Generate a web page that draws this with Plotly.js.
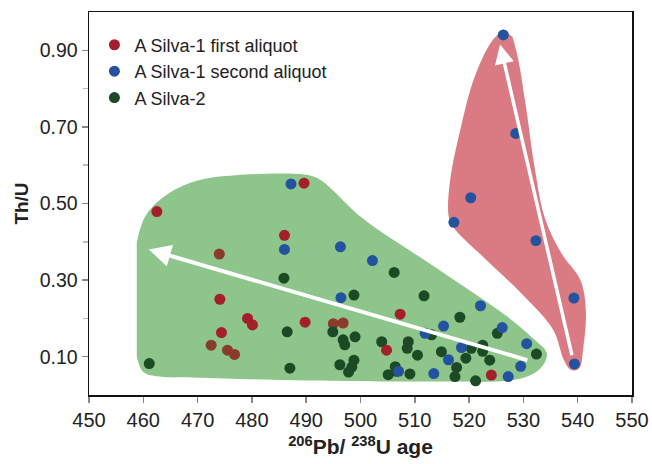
<!DOCTYPE html>
<html>
<head>
<meta charset="utf-8">
<script src="https://cdn.plot.ly/plotly-3.0.1.min.js"></script>
<style>html,body{margin:0;padding:0;background:#fff;}#chart{width:652px;height:464px;}</style>
</head>
<body>
<div id="chart"></div>
<script>
// ---- data ----
const seriesNames = ["A Silva-1 first aliquot", "A Silva-1 second aliquot", "A Silva-2"];

const firstAgeBright = [462.5, 489.6, 486.0, 474.1, 479.2, 480.1, 489.8, 474.4, 507.3, 504.8, 524.1];
const firstThUBright = [0.479, 0.553, 0.417, 0.250, 0.200, 0.183, 0.190, 0.163, 0.211, 0.117, 0.052];
const firstAgeFaded = [474.0, 472.5, 475.5, 476.8, 495.0, 496.8];
const firstThUFaded = [0.368, 0.130, 0.117, 0.106, 0.186, 0.188];

const secondAge = [487.2, 486.0, 496.3, 502.2, 496.4, 522.1, 515.3, 526.1, 511.9, 530.6, 518.6, 516.2, 507.0, 513.5, 529.5, 527.2,
                   526.3, 528.6, 520.3, 517.2, 532.3, 539.3, 539.4];
const secondThU = [0.551, 0.380, 0.387, 0.351, 0.254, 0.233, 0.180, 0.176, 0.161, 0.134, 0.124, 0.092, 0.062, 0.056, 0.075, 0.048,
                   0.940, 0.683, 0.515, 0.451, 0.403, 0.253, 0.081];

const silva2Age = [485.9, 486.5, 461.1, 487.0, 506.2, 498.8, 511.7, 518.3, 525.2, 513.1, 494.9, 496.8, 497.1, 499.0, 503.9,
                   508.8, 508.6, 510.5, 514.9, 520.4, 522.5, 522.5, 519.4, 517.7, 517.4, 523.8, 532.4, 521.2, 496.2, 498.8,
                   498.4, 497.8, 506.4, 506.6, 505.1, 509.1];
const silva2ThU = [0.305, 0.165, 0.082, 0.070, 0.320, 0.261, 0.259, 0.203, 0.161, 0.157, 0.165, 0.144, 0.131, 0.152, 0.139,
                   0.139, 0.122, 0.104, 0.113, 0.122, 0.130, 0.114, 0.096, 0.072, 0.048, 0.091, 0.107, 0.037, 0.079, 0.091,
                   0.073, 0.060, 0.074, 0.062, 0.053, 0.055];

// field outlines
const greenFieldAge = [458.8, 460.5, 464.5, 470, 477, 490.5, 492.8, 500.5, 514.6, 526.9, 532, 534.3, 533.5, 531, 527, 515, 490, 470, 463, 460, 458.8];
const greenFieldThU = [0.40, 0.47, 0.525, 0.56, 0.574, 0.574, 0.56, 0.46, 0.326, 0.206, 0.145, 0.11, 0.075, 0.05, 0.037, 0.035, 0.038, 0.045, 0.048, 0.06, 0.10];
const pinkFieldAge = [526.3, 524, 521, 518.5, 516.5, 516.2, 517, 523, 530, 535.5, 537.5, 538.8, 540.3, 541, 541.5, 540.5, 537, 534, 532, 530.5, 529, 528];
const pinkFieldThU = [0.955, 0.92, 0.83, 0.70, 0.56, 0.47, 0.44, 0.355, 0.26, 0.17, 0.09, 0.065, 0.07, 0.12, 0.22, 0.30, 0.37, 0.46, 0.60, 0.75, 0.88, 0.935];

// trend arrows [age, Th/U]
const greenArrowFrom = [531, 0.09], greenArrowTo = [461, 0.38];
const pinkArrowFrom = [539, 0.10], pinkArrowTo = [525.7, 0.915];

const xTicks = [450, 460, 470, 480, 490, 500, 510, 520, 530, 540, 550];
const yTicks = [0.1, 0.3, 0.5, 0.7, 0.9];
const yTickText = ["0.10", "0.30", "0.50", "0.70", "0.90"];
const yMinorTicks = [0.2, 0.4, 0.6, 0.8];

// ---- styling ----
const RED = "#a51e2b", BLUE = "#23539e", DKGREEN = "#1c4a25", FADED = "#8b3b2c";
const FONT = "Liberation Sans, Arial, Helvetica, sans-serif";
const msize = 11;

const traces = [
  {x: greenFieldAge, y: greenFieldThU, mode: "lines", fill: "toself", fillcolor: "#8dc58a",
   line: {width: 0, shape: "spline", smoothing: 1, color: "#8dc58a"}, showlegend: false, hoverinfo: "skip"},
  {x: pinkFieldAge, y: pinkFieldThU, mode: "lines", fill: "toself", fillcolor: "#da7b83",
   line: {width: 0, shape: "spline", smoothing: 1, color: "#da7b83"}, showlegend: false, hoverinfo: "skip"},
  {x: firstAgeFaded, y: firstThUFaded, mode: "markers", marker: {color: FADED, size: msize}, showlegend: false},
  {x: silva2Age, y: silva2ThU, mode: "markers", name: seriesNames[2], legendgroup: "c", legendrank: 3,
   marker: {color: DKGREEN, size: msize}},
  {x: secondAge, y: secondThU, mode: "markers", name: seriesNames[1], legendgroup: "b", legendrank: 2,
   marker: {color: BLUE, size: msize}},
  {x: firstAgeBright, y: firstThUBright, mode: "markers", name: seriesNames[0], legendgroup: "a", legendrank: 1,
   marker: {color: RED, size: msize}}
];

function arrow(from, to, w) {
  return {x: to[0], y: to[1], ax: from[0], ay: from[1], xref: "x", yref: "y", axref: "x", ayref: "y",
          text: "", showarrow: true, arrowhead: 2, arrowsize: 1.1, arrowwidth: w, arrowcolor: "#ffffff"};
}

const layout = {
  width: 652, height: 464,
  margin: {l: 89, r: 20, t: 12, b: 69},
  paper_bgcolor: "#ffffff", plot_bgcolor: "#ffffff",
  font: {family: FONT, size: 19, color: "#222"},
  showlegend: true,
  legend: {x: 0.01, y: 0.962, xanchor: "left", yanchor: "top", bgcolor: "rgba(0,0,0,0)",
           font: {family: FONT, size: 18, color: "#222"}, tracegroupgap: 2, traceorder: "normal"},
  xaxis: {range: [450, 550], tickmode: "array", tickvals: xTicks, ticks: "outside", ticklen: 6, tickwidth: 1.5,
          tickcolor: "#888", showline: true, linecolor: "#111", linewidth: 1.5, mirror: true,
          showgrid: false, zeroline: false, tickfont: {size: 20, color: "#222"},
          title: {text: "<sup>206</sup>Pb/ <sup>238</sup>U age", font: {size: 21, weight: "bold", color: "#222"}, standoff: 10}},
  yaxis: {range: [0, 1], tickmode: "array", tickvals: yTicks, ticktext: yTickText, ticks: "outside", ticklen: 6, tickwidth: 1.5,
          tickcolor: "#888", showline: true, linecolor: "#111", linewidth: 1.5, mirror: true,
          showgrid: false, zeroline: false, tickfont: {size: 19.5, color: "#222"},
          minor: {tickmode: "array", tickvals: yMinorTicks, ticks: "outside", ticklen: 5, tickcolor: "#bbb", tickwidth: 1.5, showgrid: false},
          title: {text: "Th/U", font: {size: 19, weight: "bold", color: "#222"}, standoff: 6}},
  annotations: [arrow(greenArrowFrom, greenArrowTo, 4), arrow(pinkArrowFrom, pinkArrowTo, 3.5)]
};

Plotly.newPlot("chart", traces, layout, {displayModeBar: false, staticPlot: true});
</script>
</body>
</html>
